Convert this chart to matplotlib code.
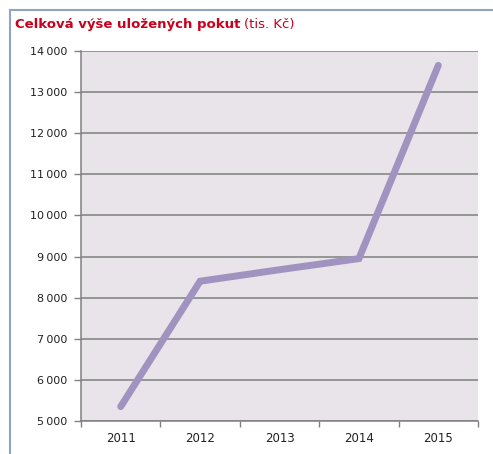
import matplotlib
matplotlib.use('Agg')
import matplotlib.pyplot as plt
from matplotlib.lines import Line2D
from matplotlib.ticker import FixedLocator, NullFormatter

# --- Dados ---
roky = ['2011', '2012', '2013', '2014', '2015']
pokuty = [5350, 8400, 8680, 8950, 13650]
y_ticks = [5000, 6000, 7000, 8000, 9000, 10000, 11000, 12000, 13000, 14000]
# -------------

W, H = 493, 454
fig = plt.figure(figsize=(W / 100, H / 100), dpi=100)
fig.patch.set_facecolor('white')

# plot area in pixels: left 81, right 478, top 51, bottom 421
ax = fig.add_axes([81 / W, 1 - 421 / H, (478 - 81) / W, (421 - 51) / H])
ax.set_facecolor('#e8e4e9')

x = list(range(len(roky)))
ax.plot(x, pokuty, color='#a193c0', lw=5, solid_capstyle='round',
        solid_joinstyle='miter', zorder=3)

ax.set_xlim(-0.5, len(roky) - 0.5)
ax.set_ylim(5000, 14000)

ax.set_yticks(y_ticks)
ax.set_yticklabels([f'{v:,}'.replace(',', '\u2009') for v in y_ticks],
                   fontsize=8, color='#222222')
ax.yaxis.grid(True, color='#808080', lw=1.1)
ax.set_axisbelow(True)

# year labels centered, tick marks between categories
ax.xaxis.set_major_locator(FixedLocator(x))
ax.set_xticklabels(roky, fontsize=8.5, color='#222222')
ax.tick_params(axis='x', which='major', length=0, pad=8)
ax.xaxis.set_minor_locator(FixedLocator([i - 0.5 for i in range(len(roky) + 1)]))
ax.xaxis.set_minor_formatter(NullFormatter())
ax.tick_params(axis='x', which='minor', length=4, color='#808080', width=1)
ax.tick_params(axis='y', length=5, color='#808080', width=1, pad=5)

for s in ['top', 'right']:
    ax.spines[s].set_visible(False)
for s in ['left', 'bottom']:
    ax.spines[s].set_color('#808080')
    ax.spines[s].set_linewidth(1.1)

# outer frame (left + top)
fc = '#8fa5bf'
fig.add_artist(Line2D([10 / W, 10 / W], [0, 1 - 10 / H], color=fc, lw=1.5,
                      transform=fig.transFigure))
fig.add_artist(Line2D([10 / W, 1], [1 - 10 / H, 1 - 10 / H], color=fc, lw=1.5,
                      transform=fig.transFigure))

t1 = fig.text(15 / W, 1 - 28 / H, 'Celková výše uložených pokut', fontsize=9.5,
              fontweight='bold', color='#c8001e', va='baseline')
fig.canvas.draw()
bb = t1.get_window_extent()
fig.text((bb.x1 + 4) / W, 1 - 28 / H, '(tis. Kč)', fontsize=9.5,
         color='#c8001e', va='baseline')

fig.savefig('out.png', dpi=100)
